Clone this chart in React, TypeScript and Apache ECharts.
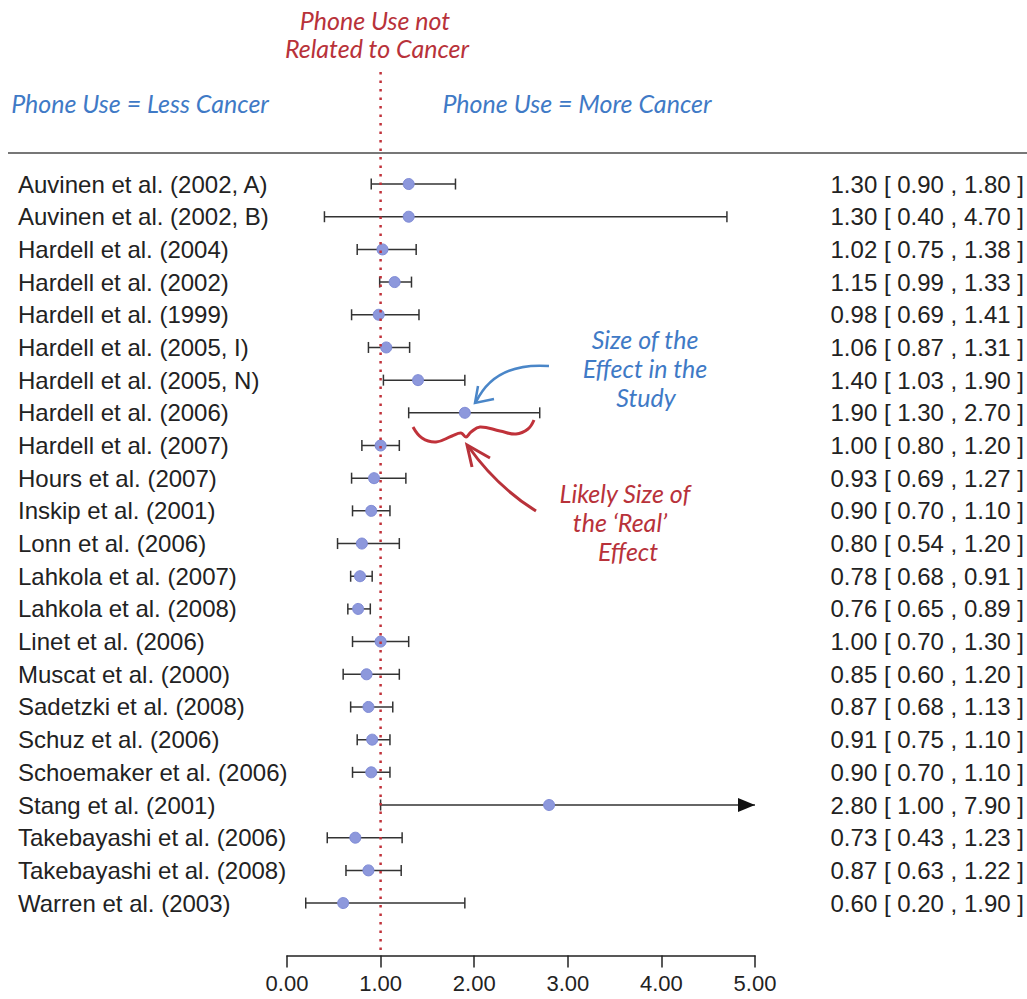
import React, { useEffect, useRef } from "react";
import * as echarts from "echarts";

const studies = [
  "Auvinen et al. (2002, A)",
  "Auvinen et al. (2002, B)",
  "Hardell et al. (2004)",
  "Hardell et al. (2002)",
  "Hardell et al. (1999)",
  "Hardell et al. (2005, I)",
  "Hardell et al. (2005, N)",
  "Hardell et al. (2006)",
  "Hardell et al. (2007)",
  "Hours et al. (2007)",
  "Inskip et al. (2001)",
  "Lonn et al. (2006)",
  "Lahkola et al. (2007)",
  "Lahkola et al. (2008)",
  "Linet et al. (2006)",
  "Muscat et al. (2000)",
  "Sadetzki et al. (2008)",
  "Schuz et al. (2006)",
  "Schoemaker et al. (2006)",
  "Stang et al. (2001)",
  "Takebayashi et al. (2006)",
  "Takebayashi et al. (2008)",
  "Warren et al. (2003)",
];
const estimates = [1.3, 1.3, 1.02, 1.15, 0.98, 1.06, 1.4, 1.9, 1.0, 0.93, 0.9, 0.8, 0.78, 0.76, 1.0, 0.85, 0.87, 0.91, 0.9, 2.8, 0.73, 0.87, 0.6];
const lowers = [0.9, 0.4, 0.75, 0.99, 0.69, 0.87, 1.03, 1.3, 0.8, 0.69, 0.7, 0.54, 0.68, 0.65, 0.7, 0.6, 0.68, 0.75, 0.7, 1.0, 0.43, 0.63, 0.2];
const uppers = [1.8, 4.7, 1.38, 1.33, 1.41, 1.31, 1.9, 2.7, 1.2, 1.27, 1.1, 1.2, 0.91, 0.89, 1.3, 1.2, 1.13, 1.1, 1.1, 7.9, 1.23, 1.22, 1.9];
const xMin = 0;
const xMax = 5;
const xInterval = 1;
const nullValue = 1;

const RED = "#b8323a";
const BLUE = "#3f7ac6";
const HAND = "Lato";
const HAND_SIZE = 25;

export default function App() {
  const ref = useRef<HTMLDivElement>(null);
  useEffect(() => {
    if (!ref.current) return;
    const chart = echarts.init(ref.current, null, { renderer: "svg" });
    const rowData = studies.map((_, i) => [lowers[i], uppers[i], i]);
    const pointData = studies.map((_, i) => [estimates[i], i]);
    const option: any = {
      animation: false,
      backgroundColor: "#ffffff",
      grid: { left: 287, right: 272, top: 167.7, bottom: 79.6 },
      xAxis: {
        type: "value",
        min: xMin,
        max: xMax,
        interval: xInterval,
        position: "bottom",
        offset: 36,
        axisLine: { show: true, lineStyle: { color: "#222", width: 1.5 } },
        axisTick: { show: true, length: 12, lineStyle: { color: "#222", width: 1.5 } },
        axisLabel: {
          formatter: (v: number) => v.toFixed(2),
          fontSize: 22,
          color: "#222",
          margin: 17,
          fontFamily: "Liberation Sans",
        },
        splitLine: { show: false },
      },
      yAxis: [
        {
          type: "category",
          data: studies,
          inverse: true,
          position: "left",
          axisLine: { show: false },
          axisTick: { show: false },
          axisLabel: {
            align: "left",
            margin: 269,
            fontSize: 24,
            color: "#222",
            fontFamily: "Liberation Sans",
          },
        },
        {
          type: "category",
          data: studies,
          inverse: true,
          position: "right",
          axisLine: { show: false },
          axisTick: { show: false },
          axisLabel: {
            align: "right",
            margin: 269,
            fontSize: 24,
            color: "#222",
            fontFamily: "Liberation Sans",
            formatter: (_v: string, i: number) =>
              `${estimates[i].toFixed(2)} [ ${lowers[i].toFixed(2)} , ${uppers[i].toFixed(2)} ]`,
          },
        },
      ],
      series: [
        {
          type: "custom",
          yAxisIndex: 0,
          data: rowData,
          encode: { x: [0, 1], y: 2 },
          z: 2,
          renderItem: (params: any, api: any) => {
            const lo = api.value(0);
            const hi = api.value(1);
            const idx = api.value(2);
            const p1 = api.coord([lo, idx]);
            const p2 = api.coord([Math.min(hi, xMax), idx]);
            const st = { stroke: "#333", lineWidth: 1.5 };
            const h = 5.5;
            const children: any[] = [
              { type: "line", shape: { x1: p1[0], y1: p1[1], x2: p2[0], y2: p2[1] }, style: st },
              { type: "line", shape: { x1: p1[0], y1: p1[1] - h, x2: p1[0], y2: p1[1] + h }, style: st },
            ];
            if (hi > xMax) {
              children.push({
                type: "polygon",
                shape: { points: [[p2[0], p2[1]], [p2[0] - 17, p2[1] - 7], [p2[0] - 17, p2[1] + 7]] },
                style: { fill: "#111" },
              });
            } else {
              children.push({ type: "line", shape: { x1: p2[0], y1: p2[1] - h, x2: p2[0], y2: p2[1] + h }, style: st });
            }
            return { type: "group", children };
          },
        },
        {
          type: "scatter",
          yAxisIndex: 0,
          data: pointData,
          symbol: "circle",
          symbolSize: 11,
          z: 5,
          itemStyle: { color: "#8d98dc", borderColor: "#7f8bd6", borderWidth: 1, opacity: 1 },
        },
      ],
    };
    chart.setOption(option);
    const nx = chart.convertToPixel({ xAxisIndex: 0 }, nullValue) as number;
    const textStyle = (color: string, size: number) => ({
      fill: color,
      fontSize: size,
      fontFamily: HAND,
      fontStyle: "italic",
      textAlign: "center",
      textVerticalAlign: "middle",
    });
    chart.setOption({
      graphic: [
        { type: "line", shape: { x1: 8, y1: 153, x2: 1027, y2: 153 }, style: { stroke: "#777", lineWidth: 2 }, z: 1 },
        {
          type: "line",
          shape: { x1: nx, y1: 72, x2: nx, y2: 955 },
          style: { stroke: "#c0323a", lineWidth: 2.5, lineDash: [2.5, 6] },
          z: 10,
        },
        { type: "text", x: 375, y: 20, style: { ...textStyle(RED, HAND_SIZE), text: "Phone Use not" } },
        { type: "text", x: 377, y: 48, style: { ...textStyle(RED, HAND_SIZE), text: "Related to Cancer" } },
        { type: "text", x: 140, y: 103, style: { ...textStyle(BLUE, HAND_SIZE), text: "Phone Use = Less Cancer" } },
        { type: "text", x: 577, y: 103, style: { ...textStyle(BLUE, HAND_SIZE), text: "Phone Use = More Cancer" } },
        { type: "text", x: 645, y: 339, style: { ...textStyle(BLUE, HAND_SIZE), text: "Size of the" } },
        { type: "text", x: 645, y: 368, style: { ...textStyle(BLUE, HAND_SIZE), text: "Effect in the" } },
        { type: "text", x: 646, y: 397, style: { ...textStyle(BLUE, HAND_SIZE), text: "Study" } },
        { type: "text", x: 625, y: 493, style: { ...textStyle(RED, HAND_SIZE), text: "Likely Size of" } },
        { type: "text", x: 620, y: 522, style: { ...textStyle(RED, HAND_SIZE), text: "the \u2018Real\u2019" } },
        { type: "text", x: 628, y: 551, style: { ...textStyle(RED, HAND_SIZE), text: "Effect" } },
        {
          type: "bezierCurve",
          shape: { x1: 549, y1: 366, cpx1: 495, cpy1: 362, x2: 476, y2: 402 },
          style: { stroke: "#4a86c8", lineWidth: 2.5, fill: null },
        },
        {
          type: "polyline",
          shape: { points: [[478, 386], [475, 403], [494, 399]] },
          style: { stroke: "#4a86c8", lineWidth: 2.5, fill: null },
        },
        {
          type: "polyline",
          shape: {
            smooth: 0.4,
            points: [[413, 427], [422, 438], [436, 442], [452, 436], [461, 433], [466, 437], [471, 432], [480, 427], [500, 431], [516, 434], [528, 429], [534, 420]],
          },
          style: { stroke: "#c0323a", lineWidth: 3, fill: null },
        },
        {
          type: "bezierCurve",
          shape: { x1: 536, y1: 511, cpx1: 496, cpy1: 486, x2: 468, y2: 446 },
          style: { stroke: "#b8323a", lineWidth: 3, fill: null },
        },
        {
          type: "polyline",
          shape: { points: [[490, 458], [467, 445], [472, 467]] },
          style: { stroke: "#b8323a", lineWidth: 3, fill: null },
        },
      ],
    });
    return () => chart.dispose();
  }, []);
  return (
    <div
      ref={ref}
      style={{ position: "fixed", left: 0, top: 0, width: 1027, height: 999, background: "#fff" }}
    />
  );
}
